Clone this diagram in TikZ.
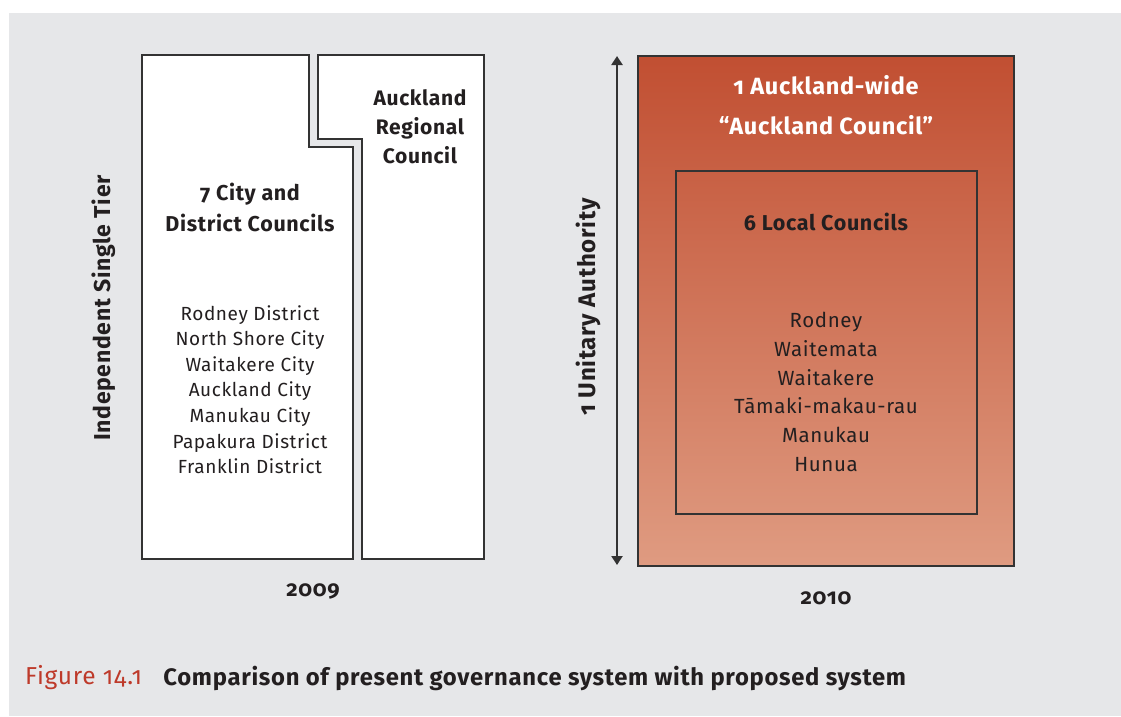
\documentclass[tikz,border=0pt]{standalone}
\usepackage{fontspec}
\setmainfont{Fira Sans}[Numbers=OldStyle, LetterSpace=3]
\usetikzlibrary{positioning,arrows.meta}
\definecolor{bggray}{HTML}{E6E7E9}
\definecolor{ink}{HTML}{231F20}
\definecolor{edge}{HTML}{333333}
\definecolor{redtop}{HTML}{C14F32}
\definecolor{redbot}{HTML}{DF9B81}
\definecolor{capred}{HTML}{BE3A2A}
\begin{document}
\begin{tikzpicture}[x=1pt, y=-1pt,
  head/.style={font=\bfseries\fontsize{21.5}{31}\selectfont, text=ink, align=center},
  item/.style={font=\fontsize{19}{25.6}\selectfont, text=ink, align=center},
  side/.style={font=\bfseries\fontsize{23}{24}\selectfont, text=ink, rotate=90},
  year/.style={font=\bfseries\fontsize{22}{24}\selectfont, text=ink},
  wall/.style={draw=edge, line width=1.3pt, fill=white},
  box/.style={draw=edge, line width=2pt, inner sep=0pt}]
\useasboundingbox (0,0) rectangle (1121,716);
\fill[bggray] (9,13) rectangle (1121,716);

% 2009: two tiers
\draw[wall] (142,55) -- (309,55) -- (309,147) -- (353,147) -- (353,559) -- (142,559) -- cycle;
\draw[wall] (318,55) -- (484,55) -- (484,559) -- (362,559) -- (362,139) -- (318,139) -- cycle;
\node[head] (tla) at (250,207.5) {7 City and\\District Councils};
\node[item] (tlalist) at (250,389.5) {Rodney District\\North Shore City\\Waitakere City\\Auckland City\\Manukau City\\Papakura District\\Franklin District};
\node[head, font=\bfseries\fontsize{21}{29}\selectfont] (arc) at (420,127) {Auckland\\Regional\\Council};
\node[side] (tier) at (104,308) {Independent Single Tier};
\node[year] (y2009) at (313,591) {2009};

% 2010: one authority
\node[box, minimum width=376pt, minimum height=510pt, top color=redtop, bottom color=redbot] (council) at (826,311) {};
\node[box, minimum width=301pt, minimum height=343pt] (local) at (826.5,342.5) {};
\node[head, text=white, font=\bfseries\fontsize{23.5}{40}\selectfont] (wide) at (826,105) {1 Auckland-wide\\“Auckland Council”};
\node[head] (six) at (826,222) {6 Local Councils};
\node[item, font=\fontsize{20.5}{28.8}\selectfont] (boards) at (826,392) {Rodney\\Waitemata\\Waitakere\\Tāmaki-makau-rau\\Manukau\\Hunua};
\coordinate (uatop) at (617,56);
\coordinate (uabot) at (617,565);
\draw[edge, line width=2.2pt, {Triangle[length=9pt,width=11pt]}-{Triangle[length=9pt,width=11pt]}] (uatop) -- (uabot);
\node[side, font=\bfseries\fontsize{24}{24}\selectfont] (unitary) at (588,307) {1 Unitary Authority};
\node[year] (y2010) at (826,598) {2010};

% caption
\node[anchor=west, inner sep=0pt, text=capred, font=\fontsize{24.5}{26}\selectfont] (fig) at (25,678) {Figure 14.1};
\node[anchor=west, inner sep=0pt, text=ink, font=\bfseries\fontsize{23.8}{26}\selectfont, right=21pt of fig] (cap) {Comparison of present governance system with proposed system};
\end{tikzpicture}
\end{document}
